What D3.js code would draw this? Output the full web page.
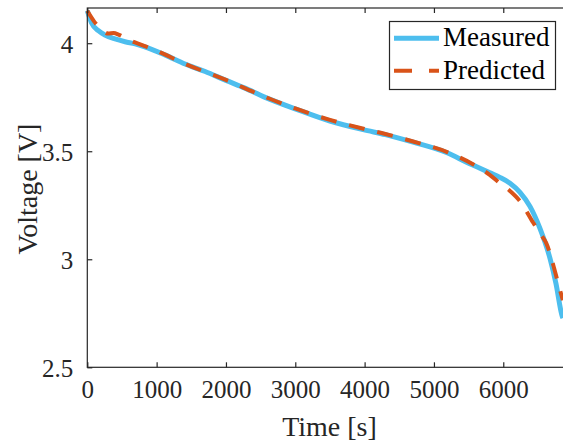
<!DOCTYPE html>
<html><head><meta charset="utf-8">
<script src="https://cdn.jsdelivr.net/npm/d3@7"></script>
<style>html,body{margin:0;padding:0;background:#fff;overflow:hidden}svg{display:block}
.serif{font-family:"Liberation Serif","DejaVu Serif","Noto Serif","Times New Roman",Times,serif !important}</style>
</head><body>
<svg id="c" width="563" height="443"></svg>
<script>
const measuredTime = [0, 60, 160, 255, 400, 545, 690, 830, 1120, 1410, 1700, 2000, 2275, 2540, 3020, 3500, 3980, 4300, 4700, 5180, 5500, 5664, 5808, 5952, 6097, 6241, 6385, 6529, 6674, 6760, 6847, 6860];
const measuredVolt = [4.150, 4.095, 4.058, 4.038, 4.020, 4.007, 3.997, 3.983, 3.946, 3.904, 3.869, 3.828, 3.792, 3.753, 3.694, 3.640, 3.600, 3.577, 3.542, 3.494, 3.445, 3.421, 3.400, 3.379, 3.352, 3.310, 3.245, 3.143, 3.004, 2.888, 2.740, 2.728];
const predictedTime = [0, 100, 200, 300, 380, 450, 600, 800, 1000, 1400, 2000, 2500, 3000, 3500, 4000, 4300, 4700, 5200, 5664, 5800, 5950, 6100, 6250, 6430, 6550, 6620, 6720, 6790, 6860];
const predictedVolt = [4.150, 4.100, 4.065, 4.045, 4.047, 4.040, 4.015, 3.990, 3.965, 3.906, 3.830, 3.760, 3.698, 3.645, 3.603, 3.580, 3.545, 3.495, 3.421, 3.392, 3.352, 3.315, 3.265, 3.170, 3.110, 3.075, 2.975, 2.890, 2.810];
const xTicks = [0, 1000, 2000, 3000, 4000, 5000, 6000];
const yTicks = [2.5, 3, 3.5, 4];
const seriesNames = ["Measured", "Predicted"];

const svg = d3.select("#c");
const L = 87.3, R = 572.6, T = 8, B = 367.3;
const x = d3.scaleLinear().domain([0, 7000]).range([L, R]);
const y = d3.scaleLinear().domain([2.5, 4.163]).range([B, T]);
const axisCol = "#262626";

const plot = svg.append("g");
const line = d3.line().x(d => x(d[0])).y(d => y(d[1])).curve(d3.curveMonotoneX);
const mData = measuredTime.map((t,i)=>[t, measuredVolt[i]]);
const pData = predictedTime.map((t,i)=>[t, predictedVolt[i]]);

plot.append("path").datum(mData).attr("d", line)
  .attr("fill","none").attr("stroke","#4DBEEE").attr("stroke-width",5)
  .attr("stroke-linejoin","round");
plot.append("path").datum(pData).attr("d", line)
  .attr("fill","none").attr("stroke","#D95319").attr("stroke-width",4)
  .attr("stroke-dasharray","16,13");

svg.append("rect").attr("x", L).attr("y", T).attr("width", R - L).attr("height", B - T)
  .attr("fill","none").attr("stroke", axisCol).attr("stroke-width", 1.2);

const xb = svg.append("g").attr("transform", `translate(0,${B})`)
  .call(d3.axisBottom(x).tickValues(xTicks).tickSizeInner(-5).tickSizeOuter(0).tickPadding(14).tickFormat(d3.format("d")));
const xt = svg.append("g").attr("transform", `translate(0,${T})`)
  .call(d3.axisTop(x).tickValues(xTicks).tickSizeInner(-5).tickSizeOuter(0).tickFormat(""));
const yl = svg.append("g").attr("transform", `translate(${L},0)`)
  .call(d3.axisLeft(y).tickValues(yTicks).tickSizeInner(-5).tickSizeOuter(0).tickPadding(14).tickFormat(d => String(d)));
[xb, xt, yl].forEach(g => {
  g.attr("font-family", null).attr("font-size", null);
  g.select(".domain").remove();
  g.selectAll(".tick line").attr("stroke", axisCol).attr("stroke-width", 1.2);
  g.selectAll(".tick text").attr("class","serif").attr("fill", axisCol).attr("font-size", 25);
});
xb.selectAll(".tick text").attr("dy", "0.68em");
yl.selectAll(".tick text").attr("dy", "0.36em");

svg.append("text").attr("class","serif").attr("x", 329.5).attr("y", 436).attr("text-anchor","middle")
  .attr("font-size", 28).attr("fill", axisCol).text("Time [s]");
svg.append("text").attr("class","serif").attr("transform", `translate(36.5,189) rotate(-90)`).attr("text-anchor","middle")
  .attr("font-size", 28).attr("fill", axisCol).text("Voltage [V]");

const lg = svg.append("g");
lg.append("rect").attr("x", 389.5).attr("y", 21.5).attr("width", 166).attr("height", 68)
  .attr("fill","#fff").attr("stroke", axisCol).attr("stroke-width", 1.2);
const legendColors = ["#4DBEEE", "#D95319"];
const legendY = [38.3, 70.7];
seriesNames.forEach((n, i) => {
  const ln = lg.append("line").attr("x1", 394).attr("x2", 439).attr("y1", legendY[i]).attr("y2", legendY[i])
    .attr("stroke", legendColors[i]).attr("stroke-width", i === 0 ? 5 : 4);
  if (i === 1) ln.attr("stroke-dasharray", "18,17");
  lg.append("text").attr("class","serif").attr("x", 443).attr("y", legendY[i] + 8)
    .attr("font-size", 27).attr("fill", "#000").text(n);
});
</script>
</body></html>
